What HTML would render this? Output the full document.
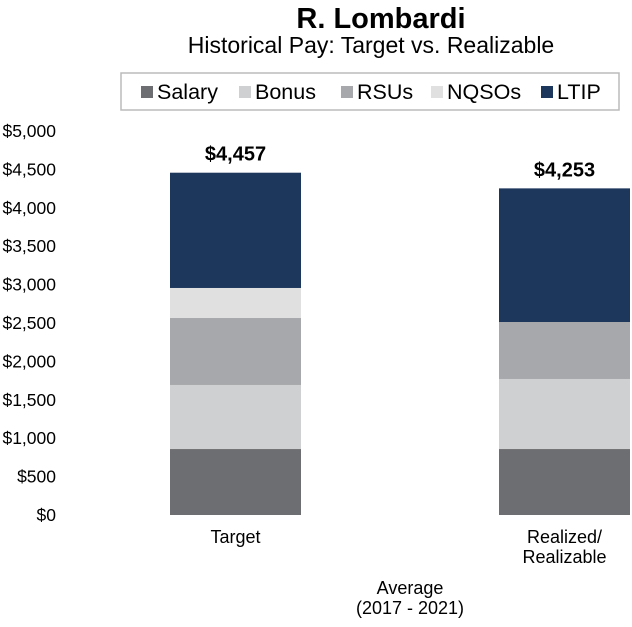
<!DOCTYPE html>
<html><head><meta charset="utf-8"><style>
body{margin:0;background:#fff;font-family:"Liberation Sans",Arial,sans-serif}
svg text{font-family:"Liberation Sans",Arial,sans-serif}
</style></head><body>
<svg id="c" width="632" height="622" xmlns="http://www.w3.org/2000/svg">
<text x="381" y="28" text-anchor="middle" font-size="29" font-weight="bold" fill="#000">R. Lombardi</text>
<text x="371" y="53" text-anchor="middle" font-size="23" fill="#000">Historical Pay: Target vs. Realizable</text>
<rect x="121" y="73" width="498" height="37" fill="#fff" stroke="#bbb" stroke-width="1.5"/>
<g id="legend"></g>
<g id="axis"></g>
<g id="bars"></g>
<text x="410" y="594" text-anchor="middle" font-size="18">Average</text>
<text x="410" y="614" text-anchor="middle" font-size="18">(2017 - 2021)</text>
</svg>
<script>
const categories=["Target","Realized/\nRealizable"];
const seriesNames=["Salary","Bonus","RSUs","NQSOs","LTIP"];
const salary=[859,859];
const bonus=[834,912];
const rsus=[872,742];
const nqsos=[391,0];
const ltip=[1501,1740];
const totalLabels=["$4,457","$4,253"];
const ticks=[0,500,1000,1500,2000,2500,3000,3500,4000,4500,5000];
const colors=["#6d6e71","#cfd0d2","#a7a8ab","#e0e0e1","#1d365c"];
const NS="http://www.w3.org/2000/svg";
const y0=515,yTop=131,max=5000;
const y=v=>y0-(v/max)*(y0-yTop);
const barX=[170,499],barW=131;
function mk(t,a,p){const e=document.createElementNS(NS,t);for(const k in a)e.setAttribute(k,a[k]);p.appendChild(e);return e;}
const ax=document.getElementById('axis');
ticks.forEach(t=>{const e=mk('text',{x:56,y:y(t)+6,'text-anchor':'end','font-size':17.5},ax);


e.textContent='$'+t.toLocaleString('en-US');});
const series=[salary,bonus,rsus,nqsos,ltip];
const bg=document.getElementById('bars');
categories.forEach((c,i)=>{let cum=0;
series.forEach((s,j)=>{const v=s[i];if(v>0){const r=mk('rect',{x:barX[i],y:y(cum+v),width:barW,height:y(cum)-y(cum+v),fill:colors[j]},bg);

}cum+=v;});
const tl=mk('text',{x:barX[i]+barW/2,y:y(cum)-12,'text-anchor':'middle','font-size':20,'font-weight':'bold'},bg);


tl.textContent=totalLabels[i];
c.split('\n').forEach((line,k)=>{const t=mk('text',{x:barX[i]+barW/2,y:543+k*20,'text-anchor':'middle','font-size':18},bg);


t.textContent=line;});});
const lg=document.getElementById('legend');
const lx=[141,239,341,431,541];
seriesNames.forEach((n,j)=>{const r=mk('rect',{x:lx[j],y:86,width:12,height:12,fill:colors[j]},lg);


const t=mk('text',{x:lx[j]+16,y:99,'font-size':21.5},lg);


t.textContent=n;});
</script>
</body></html>
